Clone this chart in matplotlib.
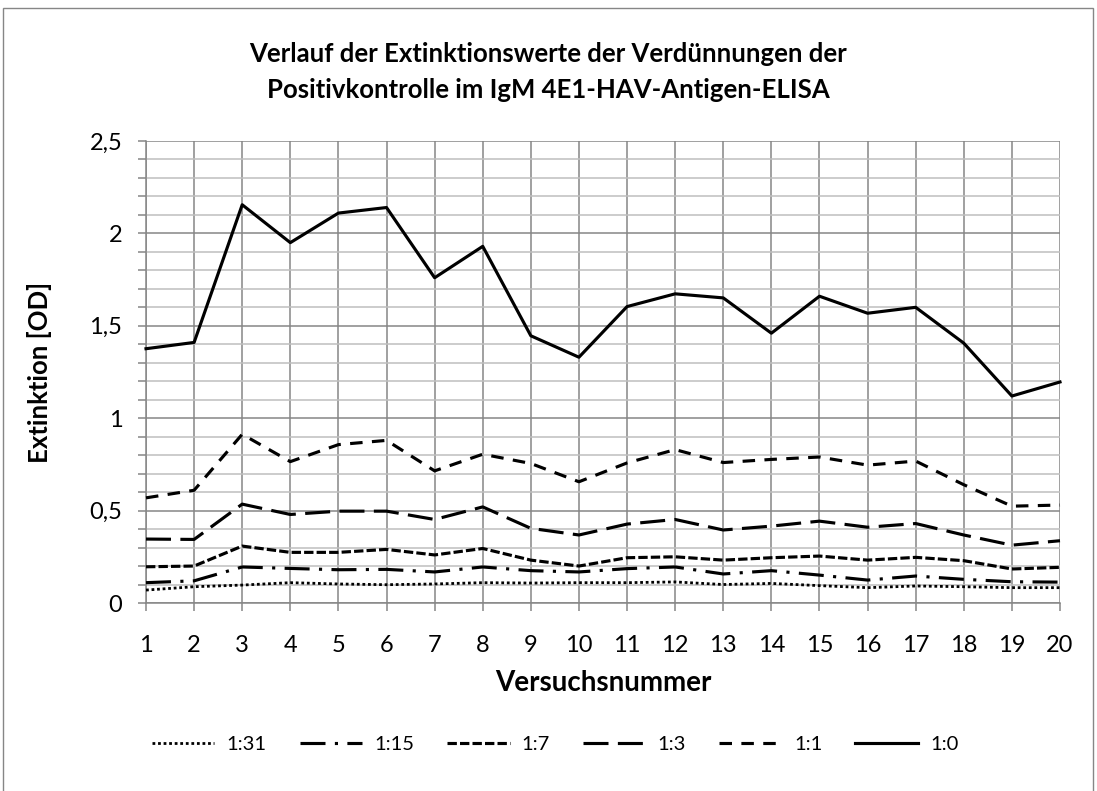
import matplotlib
matplotlib.use("Agg")
import matplotlib.pyplot as plt
from matplotlib.patches import Rectangle
from matplotlib.ticker import MultipleLocator, FuncFormatter

plt.rcParams['font.family'] = ['Lato', 'DejaVu Sans']

versuch = list(range(1, 21))
s_1_31 = [0.07, 0.088, 0.097, 0.11, 0.103, 0.099, 0.103, 0.11, 0.108, 0.11,
          0.11, 0.114, 0.10, 0.106, 0.094, 0.083, 0.092, 0.088, 0.083, 0.083]
s_1_15 = [0.11, 0.12, 0.195, 0.187, 0.18, 0.182, 0.168, 0.195, 0.175, 0.168,
          0.186, 0.195, 0.157, 0.175, 0.151, 0.124, 0.146, 0.128, 0.115, 0.113]
s_1_7 = [0.196, 0.20, 0.308, 0.274, 0.274, 0.29, 0.26, 0.295, 0.232, 0.20,
         0.245, 0.25, 0.232, 0.245, 0.254, 0.232, 0.247, 0.229, 0.184, 0.193]
s_1_3 = [0.346, 0.344, 0.535, 0.479, 0.497, 0.497, 0.452, 0.52, 0.404, 0.368,
         0.427, 0.452, 0.395, 0.416, 0.443, 0.41, 0.43, 0.368, 0.313, 0.337]
s_1_1 = [0.569, 0.61, 0.913, 0.765, 0.857, 0.88, 0.715, 0.805, 0.755, 0.656,
         0.758, 0.83, 0.76, 0.777, 0.79, 0.746, 0.768, 0.64, 0.524, 0.53]
s_1_0 = [1.376, 1.41, 2.155, 1.95, 2.11, 2.14, 1.76, 1.93, 1.446, 1.33,
         1.604, 1.673, 1.651, 1.46, 1.66, 1.568, 1.60, 1.406, 1.12, 1.196]

labels = ["1:31", "1:15", "1:7", "1:3", "1:1", "1:0"]
series = [s_1_31, s_1_15, s_1_7, s_1_3, s_1_1, s_1_0]
styles = [(0, (1, 1)), (0, (8, 3, 1, 3)), (0, (3, 1)), (0, (8, 3)), (0, (4, 3)), "-"]

title = "Verlauf der Extinktionswerte der Verdünnungen der\nPositivkontrolle im IgM 4E1-HAV-Antigen-ELISA"

W, H = 1097, 791
fig = plt.figure(figsize=(W / 100, H / 100), dpi=100)
fig.patch.set_facecolor("white")

# outer chart border
fig.patches.append(Rectangle((3 / W, -0.05), 1090 / W, 1 - 8 / H + 0.05,
                             transform=fig.transFigure, fill=False,
                             edgecolor="#868686", linewidth=1.0))

ax = fig.add_axes([146 / W, 1 - 603 / H, (1060 - 146) / W, (603 - 141) / H])
ax.set_xlim(1, 20)
ax.set_ylim(0, 2.5)

major_c = "#868686"
minor_c = "#BFBFBF"
ax.yaxis.set_major_locator(MultipleLocator(0.5))
ax.yaxis.set_minor_locator(MultipleLocator(0.1))
ax.set_xticks(versuch)
ax.set_xticklabels([str(v) for v in versuch])
ax.yaxis.set_major_formatter(FuncFormatter(lambda v, p: ("%g" % v).replace(".", ",")))

ax.grid(True, which="minor", axis="y", color=minor_c, linewidth=1.1, zorder=0)
ax.grid(True, which="major", axis="y", color=major_c, linewidth=1.1, zorder=0)
ax.grid(True, which="major", axis="x", color=major_c, linewidth=1.1, zorder=0)
ax.set_axisbelow(True)

for sp in ["top", "right"]:
    ax.spines[sp].set_visible(False)
for sp in ["left", "bottom"]:
    ax.spines[sp].set_color(major_c)
    ax.spines[sp].set_linewidth(1.1)

ax.tick_params(axis="both", which="both", direction="out", color=major_c, width=1.1)
ax.tick_params(axis="y", which="major", length=6, labelsize=17, pad=11)
ax.tick_params(axis="y", which="minor", length=6)
ax.tick_params(axis="x", which="major", length=6, labelsize=17, pad=17)

handles = []
for vals, lab, ls in zip(series, labels, styles):
    lw = 2.0 if lab == "1:31" else 2.25
    ln, = ax.plot(versuch, vals, color="black", linewidth=lw, linestyle=ls,
                  label=lab, clip_on=False, zorder=3)
    handles.append(ln)

fig.text(0.5, 1 - 72 / H, title, ha="center", va="center", fontsize=18.5,
         fontweight="bold", linespacing=1.6)
fig.text(40 / W, 1 - 372 / H, "Extinktion [OD]", ha="center", va="center",
         rotation=90, fontsize=18.5, fontweight="bold")
fig.text(603 / W, 1 - 683 / H, "Versuchsnummer", ha="center", va="center",
         fontsize=20, fontweight="bold")

fig.legend(handles=handles, labels=labels, loc="center", ncol=6,
           bbox_to_anchor=(555 / W, 1 - 744 / H), frameon=False,
           fontsize=14.5, handlelength=3.1, handletextpad=0.6, columnspacing=1.65)

fig.savefig("out.png", dpi=100, facecolor="white")
